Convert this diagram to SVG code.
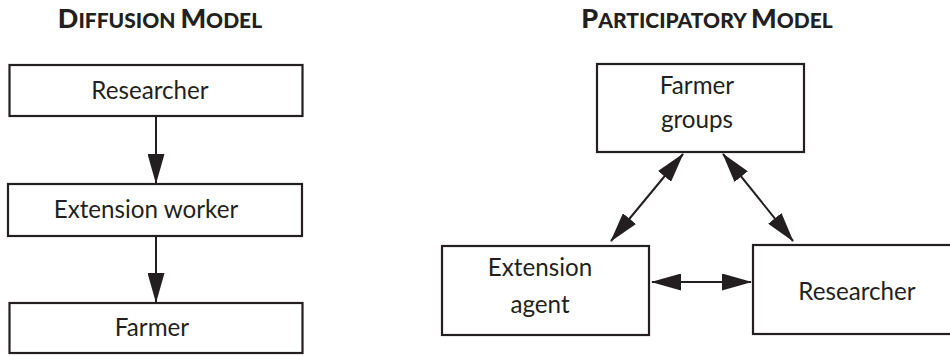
<svg xmlns="http://www.w3.org/2000/svg" width="950" height="356" viewBox="0 0 950 356">
<style>
.box{fill:#fff;stroke:#231f20;stroke-width:2.2}
.lbl{font-family:Lato,"Open Sans",sans-serif;font-size:24.2px;fill:#231f20;text-anchor:middle}
.ttl{font-family:Lato,"Open Sans",sans-serif;font-weight:900;fill:#231f20;text-anchor:middle;font-size:21px}
.big{font-size:27px}
.con{stroke:#231f20;stroke-width:2;fill:none}
</style>
<defs>
<marker id="ah" markerUnits="userSpaceOnUse" viewBox="0 0 30 17" markerWidth="30" markerHeight="17" refX="29" refY="8.5" orient="auto-start-reverse">
<path d="M0,0 L30,8.5 L0,17 z" fill="#231f20"/>
</marker>
</defs>
<rect width="950" height="356" fill="#fff"/>
<text class="ttl" x="160" y="28"><tspan class="big">D</tspan>IFFUSION <tspan class="big">M</tspan>ODEL</text>
<text class="ttl" x="707" y="28"><tspan class="big">P</tspan>ARTICIPATORY <tspan class="big">M</tspan>ODEL</text>
<g id="connectors">
<line class="con" x1="156" y1="117" x2="156" y2="183" marker-end="url(#ah)"/>
<line class="con" x1="156" y1="237" x2="156" y2="302" marker-end="url(#ah)"/>
<line class="con" x1="683" y1="154" x2="611" y2="241" marker-start="url(#ah)" marker-end="url(#ah)"/>
<line class="con" x1="723" y1="154" x2="793" y2="241" marker-start="url(#ah)" marker-end="url(#ah)"/>
<line class="con" x1="652" y1="282" x2="751" y2="282" marker-start="url(#ah)" marker-end="url(#ah)"/>
</g>
<g id="d-researcher">
<rect class="box" x="9.5" y="65" width="293" height="51"/>
<text class="lbl" x="150" y="99">Researcher</text>
</g>
<g id="d-extension">
<rect class="box" x="8" y="184" width="294" height="52"/>
<text class="lbl" x="146" y="218">Extension worker</text>
</g>
<g id="d-farmer">
<rect class="box" x="9.5" y="303" width="293" height="50"/>
<text class="lbl" x="152" y="336">Farmer</text>
</g>
<g id="p-farmer-groups">
<rect class="box" x="597" y="64" width="207" height="88"/>
<text class="lbl" x="697" y="94">Farmer</text>
<text class="lbl" x="697" y="128">groups</text>
</g>
<g id="p-extension-agent">
<rect class="box" x="442" y="246" width="207" height="89"/>
<text class="lbl" x="540" y="276">Extension</text>
<text class="lbl" x="540" y="313">agent</text>
</g>
<g id="p-researcher">
<rect class="box" x="753" y="245" width="210" height="89"/>
<text class="lbl" x="857" y="300">Researcher</text>
</g>
</svg>
